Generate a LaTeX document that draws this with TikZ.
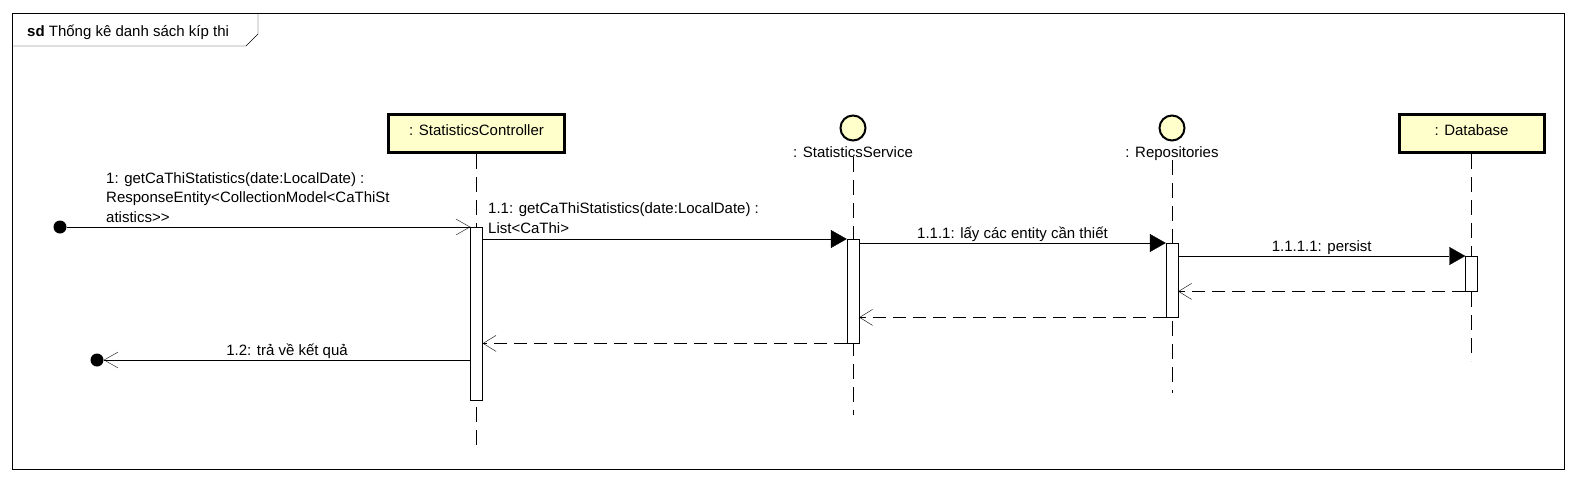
\documentclass[tikz,border=0pt]{standalone}
\usepackage{fontspec}
\setmainfont{Liberation Sans}
\usepackage{tikz}
\usetikzlibrary{arrows.meta}
\usetikzlibrary{positioning}
\definecolor{umlyellow}{RGB}{255,255,204}

\begin{document}
\begin{tikzpicture}[x=1pt,y=-1pt,
  font=\fontsize{15}{19.5}\selectfont,
  every node/.style={inner sep=0pt},
  objbox/.style={draw,line width=3pt,fill=umlyellow,minimum height=38pt,text height=11pt,text depth=8pt},
  ctlcirc/.style={draw,circle,line width=2pt,fill=umlyellow,minimum size=25pt},
  actbar/.style={draw,fill=white,minimum width=12pt,anchor=north},
  lifeline/.style={dash pattern=on 15pt off 8pt},
  dot/.style={circle,fill=black,minimum size=13pt},
  call/.style={-{Straight Barb[length=14pt,width=16pt]}},
  sync/.style={-{Triangle[length=16pt,width=18pt]}},
  reply/.style={dash pattern=on 13pt off 7pt,-{Straight Barb[length=13pt,width=16pt]}},
  lbl/.style={anchor=base,yshift=5pt}]
\useasboundingbox (0,0) rectangle (1577,482);
\draw (12.5,13.5) rectangle (1564.5,469.5);
\draw (12.5,46) -- (246,46) -- (258,34) -- (258,13.5);
\node[anchor=base west] (title) at (27,36) {\textbf{sd} Thống kê danh sách kíp thi};

\node[objbox,minimum width=176pt] (ctrl) at (476.5,133.5) {: StatisticsController};
\node[ctlcirc] (svc) at (853,128) {};
\node[anchor=base] (svclbl) at (853,157) {: StatisticsService};
\node[ctlcirc] (repo) at (1172,128) {};
\node[anchor=base] (repolbl) at (1172,157) {: Repositories};
\node[objbox,minimum width=145pt] (db) at (1471.5,133.5) {: Database};

\coordinate (ctrlend) at (476.5,450);
\coordinate (svcend) at (853,415);
\coordinate (repoend) at (1172,393);
\coordinate (dbend) at (1471.5,361);
\draw[lifeline] (ctrl) -- (ctrlend);
\draw[lifeline] (svclbl) -- (svcend);
\draw[lifeline] (repolbl) -- (repoend);
\draw[lifeline] (db) -- (dbend);

\node[actbar,minimum height=173pt] (actC) at (476.5,227) {};
\node[actbar,minimum height=104pt] (actS) at (853,239) {};
\node[actbar,minimum height=74pt] (actR) at (1172,243) {};
\node[actbar,minimum height=35pt] (actD) at (1471.5,256) {};

\node[dot] (found) at (60,227) {};
\node[dot] (lost) at (97,360) {};

\path[call] (found) edge (actC.north west);
\node[anchor=base west,align=left] (m1) at (106,222) {1: getCaThiStatistics(date:LocalDate) :\\ResponseEntity<CollectionModel<CaThiSt\\atistics>\kern0pt>};
\path[sync] (actC.east |- actS.north west) edge (actS.north west);
\node[anchor=base west,align=left] (m11) at (488,233) {1.1: getCaThiStatistics(date:LocalDate) :\\List<CaThi>};
\path[sync] (actS.east |- actR.north west) edge node[lbl] {1.1.1: lấy các entity cần thiết} (actR.north west);
\path[sync] (actR.east |- actD.north west) edge node[lbl] {1.1.1.1: persist} (actD.north west);
\path[reply] (actD.south west) edge (actR.east |- actD.south west);
\path[reply] (actR.south west) edge (actS.east |- actR.south west);
\path[reply] (actS.south west) edge (actC.east |- actS.south west);
\path[call] (actC.west |- lost) edge node[lbl] {1.2: trả về kết quả} (lost);
\end{tikzpicture}
\end{document}
